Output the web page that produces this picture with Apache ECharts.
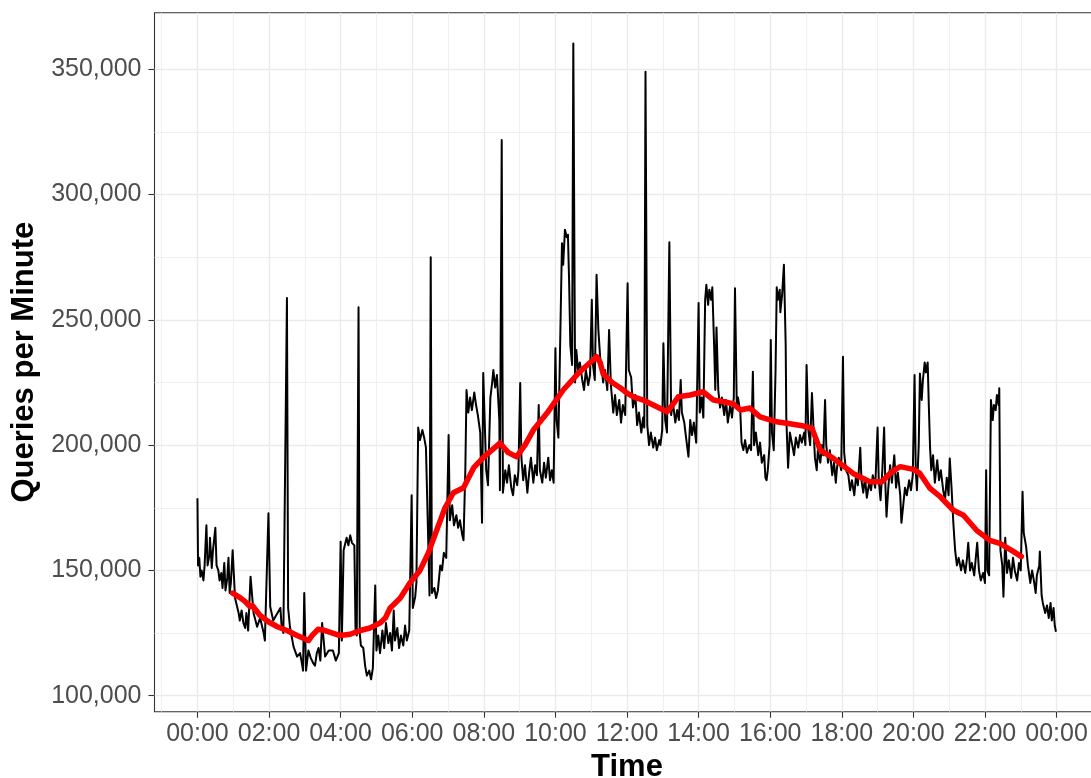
<!DOCTYPE html>
<html>
<head>
<meta charset="utf-8">
<title>Queries per Minute</title>
<script src="https://cdn.jsdelivr.net/npm/echarts@6/dist/echarts.min.js"></script>
<style>
  html, body { margin: 0; padding: 0; background: #fff; overflow: hidden; }
  #chart { width: 1104px; height: 778px; }
</style>
</head>
<body>
<div id="chart"></div>
<script>
// minute of the day for each reading
var times = [
  0, 1, 3, 5, 7, 10, 12, 15, 17, 20, 21, 24, 26, 30, 32, 35, 37, 40, 42, 45, 47, 50, 52, 54, 56, 59,
  63, 66, 69, 71, 74, 77, 80, 82, 85, 89, 94, 100, 105, 111, 113, 119, 122, 127, 133, 139, 141, 144, 150, 152, 155,
  161, 167, 172, 175, 177, 179, 182, 186, 190, 194, 197, 200, 203, 206, 209, 214, 220, 227, 232, 237,
  240, 242, 245, 250, 253, 256, 259, 263, 265, 267, 270, 272, 274, 278, 281, 284, 288, 291, 294, 298, 300,
  303, 306, 310, 313, 316, 320, 323, 326, 329, 331, 335, 338, 341, 345, 348, 351, 355, 359, 361, 365, 367,
  370, 373, 377, 380, 383, 387, 389, 391, 393, 397, 400, 403, 407, 410, 413, 417, 421, 423, 427, 430, 434,
  437, 440, 444, 446, 449, 451, 454, 457, 460, 464, 467, 470, 474, 477, 479, 484, 487, 491, 494, 496, 499,
  502, 506, 507, 510, 512,
  516, 519, 522, 526, 529, 532, 536, 538, 541, 543, 546, 549, 553, 556, 559, 563, 566, 569, 572, 574, 578,
  581, 584, 588, 591, 594, 597, 600, 602, 605, 607, 611, 613, 616, 619, 621, 623, 625, 628, 630, 633, 635,
  638, 641, 645, 648, 651, 655, 658, 661, 663, 666, 669, 672, 675, 677, 680, 683, 687, 690, 693, 697, 700,
  703, 707, 710, 713, 717, 721, 723, 727, 730, 734, 737, 740, 744, 747, 749, 751, 754, 757, 760, 764, 767,
  770, 774, 776,
  779, 781, 784, 787, 791, 794, 797, 801, 804, 807, 810, 812, 816, 819, 823, 826, 829, 832, 836, 840, 842,
  845, 848, 851, 853, 856, 858, 861, 863, 866, 868, 870, 873, 876, 879, 883, 886, 889, 893, 896, 899, 901,
  904, 906, 910,
  912, 915, 918, 921, 925, 928, 931, 933, 936, 940, 943, 946, 950, 952, 954, 956, 959, 961, 963, 966, 969,
  971, 973, 976, 977, 980, 983, 986, 987, 990, 993, 997, 1000, 1003, 1007, 1010, 1013, 1017, 1019, 1021,
  1024, 1027, 1030, 1033, 1035, 1038, 1040, 1044, 1047, 1049, 1052, 1054, 1057, 1060, 1064, 1067, 1070,
  1072, 1075, 1079, 1082, 1084, 1087, 1091, 1094, 1097, 1101, 1104, 1107, 1111, 1113, 1116, 1119, 1122,
  1126, 1129, 1132, 1136, 1140, 1142, 1145, 1148, 1151, 1153, 1155, 1158, 1161, 1164, 1168, 1171, 1174, 1178,
  1180, 1183, 1186, 1189, 1193, 1196, 1199, 1202, 1204, 1206, 1209, 1211, 1214, 1216, 1219, 1221, 1224,
  1226, 1228, 1230, 1233, 1236, 1240, 1243, 1246, 1250, 1253, 1256, 1259, 1261, 1264, 1267, 1270, 1273,
  1276, 1280, 1283, 1287, 1290, 1292, 1295, 1298, 1302, 1305, 1307, 1310, 1313, 1317, 1320, 1322, 1324,
  1327, 1330, 1333, 1335, 1338, 1340, 1343, 1344, 1346, 1349, 1351, 1354, 1357, 1360, 1364, 1367, 1370,
  1374, 1377, 1380, 1383, 1385, 1389, 1392, 1396, 1399, 1402, 1405, 1407, 1411, 1412, 1415, 1417, 1421,
  1424, 1427, 1430, 1432, 1435, 1437, 1439
]

// queries per minute, in thousands
var queries = [
  178.8, 152, 155, 147.5, 150, 146, 152, 168, 152, 156, 163, 151, 158, 167, 152, 150, 146, 149, 143, 153, 142, 147, 155, 141, 145, 158,
  139, 136, 133, 130, 134, 129, 127, 133, 126, 147.5, 133, 127.5, 131, 125, 122, 172.8, 135.5, 130, 132.5, 135, 128, 125, 258.7, 135, 127.5,
  119.6, 115.6, 117, 113, 110, 141, 110, 118, 115, 113, 112, 117, 119, 114, 129, 115.6, 118, 118, 114, 117,
  161.4, 122, 158, 163, 160, 164, 161, 160, 126, 124, 255, 125, 120, 119, 112, 108, 110, 106.5, 111, 144, 118,
  124, 117, 126, 119, 129, 121, 125, 118, 134, 122, 127, 119, 124, 120, 128, 122, 126, 180, 135, 139.5, 145,
  207, 202, 206, 203, 199, 160, 140, 275, 141, 143, 139, 142, 152, 150, 157, 155, 204, 170, 176, 168, 172,
  167, 170, 164, 162, 190, 222, 213, 219, 214, 221, 216, 212, 205, 169, 228.8, 190, 184, 219, 225, 230, 223,
  228, 210, 182, 321.8, 181,
  190, 185, 192, 183, 180, 188, 184, 190, 224.8, 195, 186, 192, 181, 189, 195, 185, 192, 188, 216, 190, 185,
  193, 187, 195, 186, 190, 185, 238.7, 210, 203, 228, 280.6, 272, 286, 283, 284, 265, 240, 232, 360.3, 225, 238,
  230, 233, 226, 222, 230, 224, 228, 258, 232, 226, 268, 246, 235, 232, 225, 230, 222, 246, 224, 213, 220,
  212, 218, 209, 216, 212, 264.6, 230, 227, 215, 220, 208, 213, 205, 211, 207, 349, 208, 200, 205, 199, 203,
  198, 202, 200,
  206, 240.7, 210, 205, 281, 212, 217, 209, 214, 210, 226, 213, 209, 203, 195.4, 210, 204, 209, 201, 256.7, 213,
  219, 211, 258, 264, 256, 262, 258, 263, 240, 222, 247, 222, 215, 219, 212, 218, 209, 216, 211, 219, 262.6,
  216, 219, 213,
  201, 198, 202, 197, 200, 198, 229.3, 200, 205, 196, 201, 193, 196, 187, 186, 190, 200, 242, 205, 198, 230,
  263, 258, 262, 253, 260, 272, 240, 211, 191, 205, 200, 196, 203, 199, 204, 201, 205, 200, 232,
  206, 200, 220.8, 205, 195, 190, 198, 193, 200, 196, 218, 200, 193, 198, 188, 193, 185,
  191, 195, 190, 235.3, 197, 190, 188, 182, 186, 180, 188, 184, 199, 186, 181, 187, 179,
  185, 182, 188, 183, 207, 186, 178, 190, 207, 185, 171.4, 183, 192, 185, 196, 183, 189, 180,
  169, 176, 183, 180, 186, 182, 188, 228, 190, 182, 200, 228.6, 218, 226, 233, 229, 233,
  215, 199, 190, 196, 185, 194, 186, 190, 182, 178, 187, 180, 194.7, 183, 169, 158, 152,
  155, 150, 154, 149, 155, 161, 150, 153, 148, 156, 161, 150, 146, 149, 145, 190, 150,
  148, 218, 210, 216, 214, 220, 216, 222.7, 158, 152, 139.5, 163, 149, 154, 147, 155, 150,
  146, 153, 150, 181.4, 165, 159.5, 152, 145, 150, 146, 141, 148, 152, 157.5, 140, 137, 133,
  136, 131, 137, 130, 135, 128, 125.5
]

// smoothed trend (red), minute of day and thousands
var trendTimes = [
  59, 72, 80, 88, 92, 105, 119, 134, 150, 167, 186, 192, 202, 214, 239, 256, 273, 289, 306, 315, 323,
  340, 356, 373, 387, 401, 415, 429, 446, 463, 479, 507, 521, 535, 549, 563, 586, 613, 641, 669, 675,
  680, 695, 708, 720, 731, 747, 770, 787, 796, 806, 826, 848, 865, 882, 898, 910, 926, 943, 971, 993,
  1016, 1030, 1044, 1066, 1099, 1127, 1147, 1164, 1178, 1200, 1211, 1228, 1245, 1267, 1284, 1306, 1328,
  1345, 1368, 1381
]
var trendQueries = [
  140.9, 139, 137.5, 135.5, 136, 132, 129.5, 127.5, 126, 124, 122, 124, 126.5, 126, 124, 124.5, 126, 127, 129, 131, 135,
  139, 145, 150, 157, 166, 175, 181, 183, 191, 195, 200.8, 197, 195.4, 200, 206, 212.8, 222, 229.3, 235.3, 233,
  228.5, 225, 223, 220.8, 219.3, 218, 215.3, 213.3, 216, 219.3, 220, 221.3, 218, 217.3, 216.5, 214, 214.8, 211.3, 209.3, 208.5,
  207.6, 206.7, 198, 194.7, 188.7, 185.4, 185.4, 189.4, 191.4, 190.3, 188.7, 182.7, 179.4, 174, 172, 166, 162,
  160.8, 157.5, 155.5
]

// tick positions
var xMajorTicks = [0, 120, 240, 360, 480, 600, 720, 840, 960, 1080, 1200, 1320, 1440]
var xMinorTicks = [-60, 60, 180, 300, 420, 540, 660, 780, 900, 1020, 1140, 1260, 1380, 1500]
var yMajorTicks = [100000, 150000, 200000, 250000, 300000, 350000]
var yMinorTicks = [125000, 175000, 225000, 275000, 325000]

var font = '"Liberation Sans", Arial, Helvetica, sans-serif'

function hhmm(v) {
  var m = ((v % 1440) + 1440) % 1440
  var h = Math.floor(m / 60)
  var mm = m % 60
  return (h < 10 ? '0' : '') + h + ':' + (mm < 10 ? '0' : '') + mm
}

function pairs(t, v) {
  var out = []
  for (var i = 0; i < t.length; i++) {
    out.push([t[i], v[i] * 1000])
  }
  return out
}

var chart = echarts.init(document.getElementById('chart'))

chart.setOption({
  animation: false,
  backgroundColor: '#ffffff',
  textStyle: { fontFamily: font },
  grid: {
    left: 154.5,
    top: 12.7,
    width: 945,
    height: 699,
    outerBoundsMode: 'none',
    containLabel: false,
    show: true,
    backgroundColor: '#ffffff',
    borderColor: '#333333',
    borderWidth: 1.1
  },
  xAxis: [
    {
      type: 'value',
      min: -72,
      max: 1512,
      position: 'bottom',
      name: 'Time',
      nameLocation: 'middle',
      nameGap: 40,
      nameTextStyle: { fontSize: 31, fontWeight: 'bold', color: '#000000', fontFamily: font },
      axisLine: { show: false, onZero: false },
      axisTick: { show: true, length: 6, customValues: xMajorTicks, lineStyle: { color: '#333333', width: 1.1 } },
      axisLabel: { customValues: xMajorTicks, formatter: hhmm, fontSize: 25, color: '#4d4d4d', margin: 10, fontFamily: font },
      splitLine: { show: true, lineStyle: { color: '#ebebeb', width: 1.4 } }
    },
    {
      type: 'value',
      min: -72,
      max: 1512,
      position: 'bottom',
      axisLine: { show: false, onZero: false },
      axisTick: { show: false, customValues: xMinorTicks },
      axisLabel: { show: false, customValues: xMinorTicks },
      splitLine: { show: true, lineStyle: { color: '#ebebeb', width: 0.8 } }
    }
  ],
  yAxis: [
    {
      type: 'value',
      min: 93600,
      max: 372600,
      position: 'left',
      name: 'Queries per Minute',
      nameLocation: 'middle',
      nameRotate: 90,
      nameGap: 115,
      nameTextStyle: { fontSize: 31, fontWeight: 'bold', color: '#000000', fontFamily: font },
      axisLine: { show: false, onZero: false },
      axisTick: { show: true, length: 6, customValues: yMajorTicks, lineStyle: { color: '#333333', width: 1.1 } },
      axisLabel: {
        customValues: yMajorTicks,
        formatter: function (v) { return v.toLocaleString('en-US') },
        fontSize: 25,
        color: '#4d4d4d',
        margin: 13,
        fontFamily: font
      },
      splitLine: { show: true, lineStyle: { color: '#ebebeb', width: 1.4 } }
    },
    {
      type: 'value',
      min: 93600,
      max: 372600,
      position: 'left',
      axisLine: { show: false, onZero: false },
      axisTick: { show: false, customValues: yMinorTicks },
      axisLabel: { show: false, customValues: yMinorTicks },
      splitLine: { show: true, lineStyle: { color: '#ebebeb', width: 0.8 } }
    }
  ],
  series: [
    {
      name: 'queries',
      type: 'line',
      xAxisIndex: 0,
      yAxisIndex: 0,
      showSymbol: false,
      symbol: 'none',
      lineStyle: { color: '#000000', width: 2, join: 'round' },
      data: pairs(times, queries),
      z: 3
    },
    {
      name: 'trend',
      type: 'line',
      xAxisIndex: 0,
      yAxisIndex: 0,
      showSymbol: false,
      symbol: 'none',
      lineStyle: { color: '#ff0000', width: 5.5, join: 'round', cap: 'round' },
      data: pairs(trendTimes, trendQueries),
      z: 4
    }
  ]
})
</script>
</body>
</html>
